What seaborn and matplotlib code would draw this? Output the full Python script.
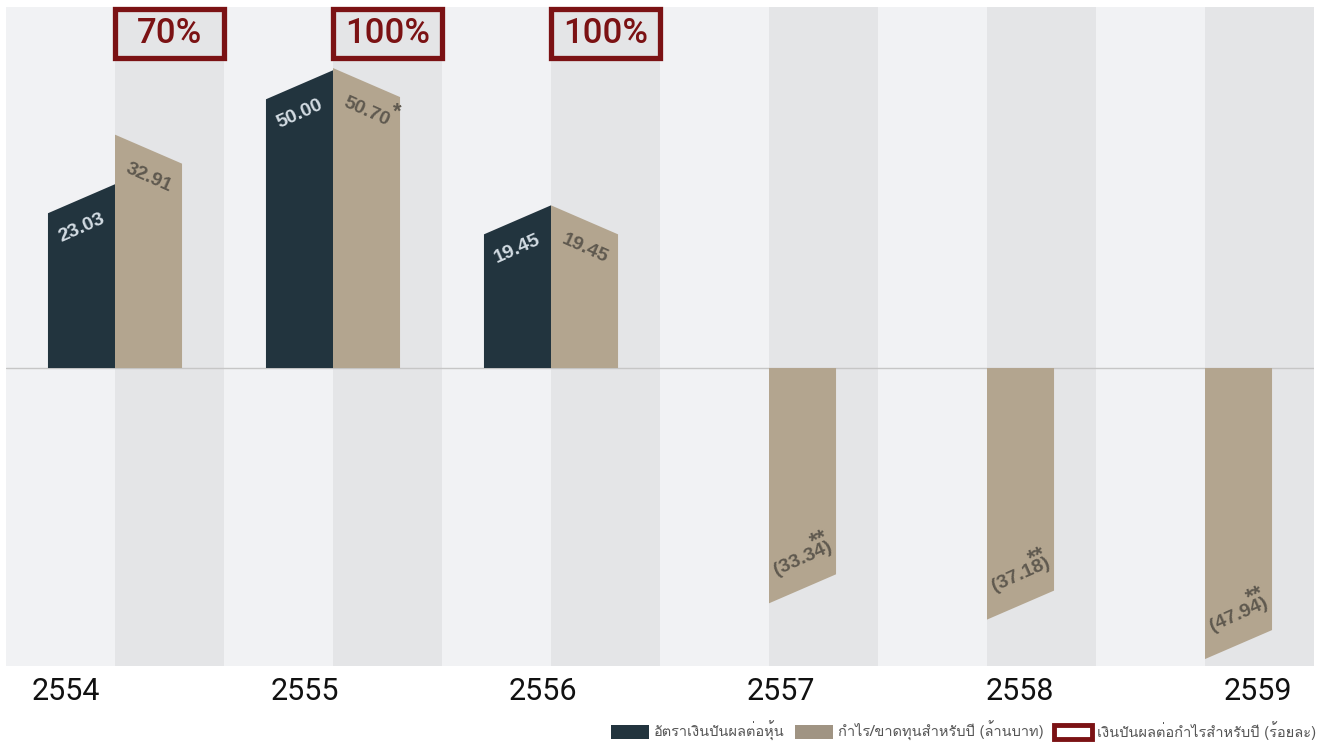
import numpy as np
import pandas as pd
import matplotlib
matplotlib.use("Agg")
import matplotlib.pyplot as plt
import matplotlib.transforms as mtransforms
from matplotlib.patches import Polygon, Rectangle, Patch
from matplotlib import font_manager
import seaborn as sns

# ---------------- data ----------------
years = ["2554", "2555", "2556", "2557", "2558", "2559"]
dividend_per_share = [23.03, 50.00, 19.45, np.nan, np.nan, np.nan]
profit_loss = [32.91, 50.70, 19.45, -33.34, -37.18, -47.94]
dividend_labels = ["23.03", "50.00", "19.45", "", "", ""]
profit_labels = ["32.91", "50.70", "19.45", "(33.34)", "(37.18)", "(47.94)"]
profit_marks = ["", "*", "", "**", "**", "**"]
payout_labels = ["70%", "100%", "100%", "", "", ""]
series_names = ["อัตราเงินปันผลต่อหุ้น",
                "กำไร/ขาดทุนสำหรับปี (ล้านบาท)",
                "เงินปันผลต่อกำไรสำหรับปี (ร้อยละ)"]

# ---------------- style ----------------
DARK = "#22343e"
TAN = "#b3a58f"
TAN_LEG = "#a09483"
LIGHT_BG = "#f1f2f4"
DARK_BG = "#e4e5e7"
RED = "#7b1214"
DARK_TXT = "#d3dce3"
TAN_TXT = "#5f594f"

sns.set_theme(style="white")

# find a font with Thai glyphs
thai_font = None
try:
    from fontTools.ttLib import TTFont
    for f in font_manager.fontManager.ttflist:
        try:
            tt = TTFont(f.fname, fontNumber=0, lazy=True)
            cmap = tt.getBestCmap()
            if cmap and 0x0E01 in cmap and 0x0E34 in cmap and 0x0E49 in cmap:
                thai_font = f.name
                break
        except Exception:
            pass
except Exception:
    pass
thai_family = ([thai_font] if thai_font else []) + ["DejaVu Sans"]
plt.rcParams["font.family"] = ["Roboto", "DejaVu Sans"]

W, H = 1320, 746
fig = plt.figure(figsize=(W / 100, H / 100), dpi=100)
ax = fig.add_axes([6 / W, (H - 666) / H, 1308 / W, 659 / H])
ax.set_facecolor(LIGHT_BG)

df = pd.DataFrame({
    "year": years * 2,
    "series": [series_names[0]] * len(years) + [series_names[1]] * len(years),
    "value": list(dividend_per_share) + list(profit_loss),
})

sns.barplot(data=df, x="year", y="value", hue="series",
            hue_order=series_names[:2], palette=[DARK, TAN],
            width=0.615, saturation=1, errorbar=None, legend=False,
            ax=ax, zorder=3)

ax.set_xlim(-0.5, len(years) - 0.5)
ax.set_yscale("asinh", linear_width=20)
ax.set_ylim(-54.8, 80.4)
for s in ax.spines.values():
    s.set_visible(False)
ax.set_xticks([])
ax.set_yticks([])
ax.set_xlabel("")
ax.set_ylabel("")
ax.minorticks_off()

for i in range(len(years)):
    ax.axvspan(i, i + 0.5, color=DARK_BG, zorder=0, lw=0)
ax.axhline(0, color="#c6c6c6", lw=1, zorder=1)

# slanted bars built from the seaborn bars
SLANT = 14.5  # pixels
ANG = 24
toD = ax.transData.transform
toI = ax.transData.inverted().transform
lab_font = dict(family=["Liberation Sans", "DejaVu Sans"],
                fontweight="bold", fontsize=14)
mark_font = dict(family=["Liberation Sans", "DejaVu Sans"],
                 fontweight="bold", fontsize=16)

for hidx, cont in enumerate(ax.containers):
    for p in cont.patches:
        h = p.get_height()
        x0 = p.get_x()
        w = p.get_width()
        p.set_visible(False)
        if h is None or not np.isfinite(h) or h == 0:
            continue
        idx = int(round(x0 + w / 2))
        bl = toD((x0, 0)); br = toD((x0 + w, 0))
        tl = toD((x0, h)); tr = toD((x0 + w, h))
        if hidx == 0:
            tl = tl + [0, -SLANT]; tr = tr + [0, SLANT]
        elif h > 0:
            tl = tl + [0, SLANT]; tr = tr + [0, -SLANT]
        else:
            tl = tl + [0, -SLANT]; tr = tr + [0, SLANT]
        verts = toI(np.array([bl, tl, tr, br]))
        ax.add_patch(Polygon(verts, closed=True, facecolor=p.get_facecolor(),
                             edgecolor="none", zorder=3))
        cx = x0 + w / 2
        if hidx == 0:
            ax.annotate(dividend_labels[idx], xy=(cx, h), xytext=(0, -29),
                        textcoords="offset pixels", ha="center", va="center",
                        rotation=ANG, rotation_mode="anchor", color=DARK_TXT,
                        zorder=5, **lab_font)
        elif h > 0:
            ax.annotate(profit_labels[idx], xy=(cx, h), xytext=(0, -29),
                        textcoords="offset pixels", ha="center", va="center",
                        rotation=-ANG, rotation_mode="anchor", color=TAN_TXT,
                        zorder=5, **lab_font)
            if profit_marks[idx]:
                ax.annotate(profit_marks[idx], xy=(cx, h), xytext=(31, -30),
                            textcoords="offset pixels", ha="center", va="center",
                            color=TAN_TXT, zorder=5, **mark_font)
        else:
            ax.annotate(profit_labels[idx], xy=(cx, h), xytext=(0, 30),
                        textcoords="offset pixels", ha="center", va="center",
                        rotation=ANG, rotation_mode="anchor", color=TAN_TXT,
                        zorder=5, **lab_font)
            if profit_marks[idx]:
                ax.annotate(profit_marks[idx], xy=(cx, h), xytext=(17, 49),
                            textcoords="offset pixels", ha="center", va="center",
                            rotation=ANG, color=TAN_TXT, zorder=5, **mark_font)

# payout ratio boxes
blend = mtransforms.blended_transform_factory(ax.transData, ax.transAxes)
for i, lab in enumerate(payout_labels):
    if not lab:
        continue
    ax.add_patch(Rectangle((i, 0.9219), 0.5, 0.0758, transform=blend,
                           fill=False, edgecolor=RED, lw=3.8, clip_on=False,
                           zorder=6))
    ax.text(i + 0.25, 0.9605, lab, transform=blend, ha="center", va="center",
            fontsize=25, color=RED, family=["Roboto", "DejaVu Sans"],
            fontweight="medium", zorder=7, clip_on=False)

# year labels along the bottom
xs = np.linspace(66, 1258, len(years))
for x, y in zip(xs, years):
    fig.text(x / W, 1 - 692 / H, y, ha="center", va="center", fontsize=22,
             color="#111111", family=["Roboto", "DejaVu Sans"])

# legend
handles = [Patch(facecolor=DARK, edgecolor="none"),
           Patch(facecolor=TAN_LEG, edgecolor="none"),
           Patch(facecolor="white", edgecolor=RED, linewidth=3.5)]
leg = fig.legend(handles, series_names, loc="lower right",
                 bbox_to_anchor=(1316 / W, 5 / H), bbox_transform=fig.transFigure,
                 ncol=3, frameon=False,
                 prop=font_manager.FontProperties(family=thai_family, size=10.5),
                 handlelength=2.6, handleheight=1.15, columnspacing=0.7,
                 handletextpad=0.35, borderaxespad=0, borderpad=0)
for t in leg.get_texts():
    t.set_color("#555555")

fig.savefig("out.png", dpi=100, facecolor="white")
